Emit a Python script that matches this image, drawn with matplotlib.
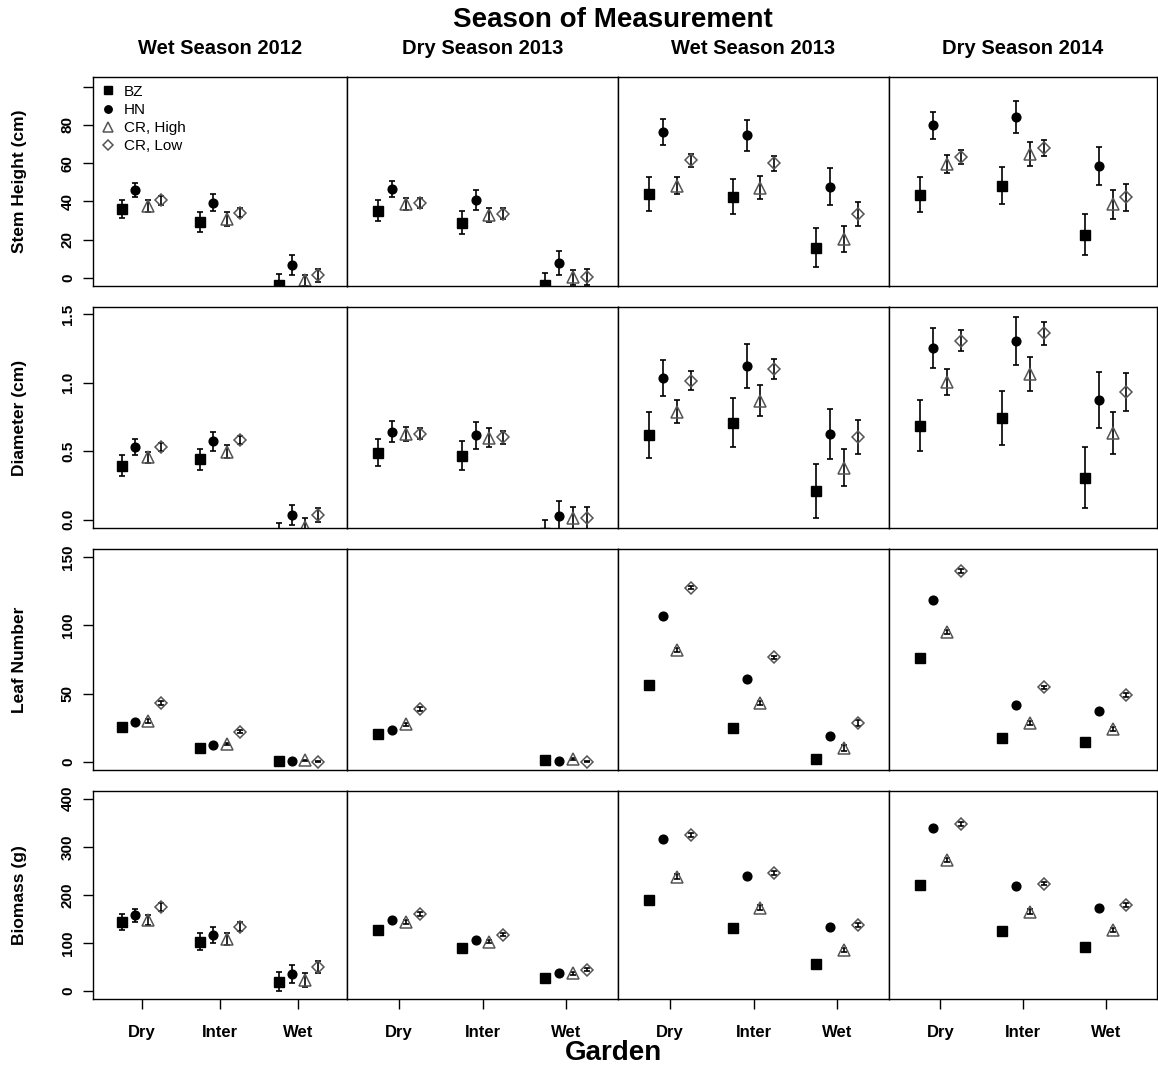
import numpy as np
import matplotlib.pyplot as plt
from matplotlib.lines import Line2D

plt.rcParams['font.family'] = 'Liberation Sans'

seasons = ['Wet Season 2012', 'Dry Season 2013', 'Wet Season 2013', 'Dry Season 2014']
gardens = ['Dry', 'Inter', 'Wet']
sources = ['BZ', 'HN', 'CR, High', 'CR, Low']

# means and standard errors, indexed [season][source][garden]
height_mean = np.array([
    [[36.0, 29.4, -3.5], [46.0, 39.3, 6.6], [37.5, 30.8, -1.2], [40.5, 34.1, 1.4]],
    [[35.2, 28.9, -3.7], [46.5, 40.7, 8.0], [38.6, 32.9, 0.3], [39.3, 33.6, 0.5]],
    [[43.9, 42.5, 15.8], [76.2, 74.5, 47.7], [48.2, 47.2, 20.4], [61.5, 59.9, 33.2]],
    [[43.5, 48.2, 22.6], [79.7, 84.2, 58.5], [59.5, 64.6, 38.6], [63.0, 67.7, 42.1]],
])
height_se = np.array([
    [[4.8, 5.2, 5.4], [3.7, 4.4, 5.3], [3.0, 3.5, 3.0], [2.5, 2.5, 3.4]],
    [[5.5, 5.9, 6.5], [4.3, 5.2, 6.3], [3.0, 3.9, 3.9], [2.5, 2.8, 4.2]],
    [[8.9, 9.1, 10.3], [6.8, 8.1, 9.6], [4.4, 5.9, 7.0], [3.5, 3.8, 6.3]],
    [[9.2, 9.7, 10.8], [7.0, 8.5, 10.0], [4.5, 6.2, 7.6], [3.7, 4.2, 6.9]],
])

diam_mean = np.array([
    [[0.396, 0.440, -0.11], [0.530, 0.573, 0.034], [0.457, 0.498, -0.05], [0.532, 0.581, 0.036]],
    [[0.490, 0.469, -0.10], [0.644, 0.617, 0.027], [0.627, 0.600, 0.012], [0.627, 0.603, 0.012]],
    [[0.620, 0.709, 0.211], [1.035, 1.122, 0.627], [0.790, 0.870, 0.381], [1.015, 1.098, 0.605]],
    [[0.687, 0.746, 0.308], [1.254, 1.307, 0.875], [1.008, 1.064, 0.632], [1.307, 1.361, 0.931]],
])
diam_se = np.array([
    [[0.074, 0.078, 0.090], [0.057, 0.068, 0.075], [0.040, 0.050, 0.060], [0.030, 0.030, 0.053]],
    [[0.100, 0.107, 0.095], [0.079, 0.097, 0.110], [0.050, 0.070, 0.080], [0.040, 0.047, 0.080]],
    [[0.166, 0.177, 0.196], [0.128, 0.158, 0.182], [0.084, 0.115, 0.137], [0.070, 0.074, 0.124]],
    [[0.187, 0.197, 0.220], [0.143, 0.176, 0.205], [0.095, 0.126, 0.155], [0.077, 0.084, 0.138]],
])

leaf_mean = np.array([
    [[25.7, 10.3, 0.5], [29.1, 12.2, 0.2], [29.8, 13.0, 1.0], [43.0, 22.0, 0.0]],
    [[20.3, np.nan, 1.2], [23.2, np.nan, 0.5], [27.4, np.nan, 2.0], [38.6, np.nan, 0.0]],
    [[56.3, 25.0, 2.0], [107.0, 60.9, 19.1], [81.9, 42.8, 10.3], [127.6, 76.5, 28.4]],
    [[76.0, 17.4, 14.4], [118.5, 41.6, 37.0], [95.0, 28.4, 24.0], [140.0, 54.5, 49.0]],
])
leaf_se = np.array([
    [[1.0, 0.8, 0.3], [1.0, 0.8, 0.3], [1.2, 1.0, 0.6], [1.2, 1.0, 0.5]],
    [[1.0, np.nan, 0.4], [1.0, np.nan, 0.3], [1.2, np.nan, 0.6], [1.2, np.nan, 0.4]],
    [[1.5, 1.2, 0.6], [1.6, 1.4, 1.0], [1.4, 1.5, 2.2], [1.2, 1.3, 2.2]],
    [[1.5, 1.0, 0.8], [1.6, 1.2, 1.0], [1.4, 1.3, 1.6], [1.2, 1.2, 1.2]],
])

mass_mean = np.array([
    [[144.4, 102.0, 19.4], [157.6, 117.4, 35.4], [148.0, 107.6, 23.0], [174.3, 134.0, 50.0]],
    [[127.0, 89.0, 27.8], [148.0, 107.0, 37.5], [143.0, 102.8, 36.8], [160.4, 117.4, 44.4]],
    [[189.6, 131.0, 57.0], [316.0, 239.0, 133.3], [238.0, 173.6, 85.4], [324.0, 245.8, 138.0]],
    [[220.8, 125.0, 91.7], [340.0, 218.8, 173.6], [273.0, 165.0, 127.0], [347.0, 223.5, 179.0]],
])
mass_se = np.array([
    [[16.7, 17.7, 20.0], [13.5, 16.7, 18.0], [11.0, 12.0, 14.0], [8.8, 9.7, 13.0]],
    [[3.0, 3.0, 2.5], [3.0, 3.0, 2.5], [4.0, 4.0, 3.5], [3.5, 3.5, 3.0]],
    [[4.0, 4.0, 3.0], [4.0, 4.0, 3.0], [4.5, 4.5, 4.0], [4.0, 4.0, 4.0]],
    [[4.0, 4.0, 3.0], [4.0, 4.0, 3.0], [4.5, 4.5, 4.0], [4.0, 4.0, 4.0]],
])

ylabels = ['Stem Height (cm)', 'Diameter (cm)', 'Leaf Number', 'Biomass (g)']
ylims = [(-4.2, 105.0), (-0.06, 1.553), (-6.1, 156.1), (-16.7, 416.0)]
yticks = [[0, 20, 40, 60, 80, 100], [0.0, 0.5, 1.0, 1.5], [0, 50, 100, 150], [0, 100, 200, 300, 400]]
yticklabels = [['0', '20', '40', '60', '80', ''], ['0.0', '0.5', '1.0', '1.5'],
               ['0', '50', '100', '150'], ['0', '100', '200', '300', '400']]
means = [height_mean, diam_mean, leaf_mean, mass_mean]
ses = [height_se, diam_se, leaf_se, mass_se]

# panel edges in pixels
W, H = 1158, 1070
col_l = [93, 347, 618, 889]
col_r = [347, 618, 889, 1157]
row_t = [77, 307, 549, 791]
row_b = [286, 528, 770, 999]

gray = '#555555'
styles = [
    dict(marker='s', ms=6.7, mfc='black', mec='black'),
    dict(marker='o', ms=6.3, mfc='black', mec='black'),
    dict(marker='^', ms=8.5, mfc='none', mec=gray, mew=1.1),
    dict(marker='D', ms=6.2, mfc='none', mec=gray, mew=1.1),
]
x = np.arange(1, 4)
offsets = [-0.25, -1 / 12, 1 / 12, 0.25]

fig = plt.figure(figsize=(W / 100, H / 100), dpi=100)

for r in range(4):
    for c in range(4):
        ax = fig.add_axes([col_l[c] / W, 1 - row_b[r] / H,
                           (col_r[c] - col_l[c]) / W, (row_b[r] - row_t[r]) / H])
        for k in range(4):
            ax.errorbar(x + offsets[k], means[r][c, k], yerr=ses[r][c, k], fmt='none',
                        ecolor='black', elinewidth=1.2, capsize=2.2, capthick=1.2)
            ax.plot(x + offsets[k], means[r][c, k], ls='none', **styles[k])
        ax.set_xlim(0.38, 3.62)
        ax.set_ylim(*ylims[r])
        for s in ax.spines.values():
            s.set_linewidth(1.0)
        if c == 0:
            ax.set_yticks(yticks[r])
            ax.set_yticklabels(yticklabels[r], rotation=90, va='center',
                               fontsize=11, fontweight='bold')
            ax.tick_params(axis='y', direction='out', length=7, width=1, pad=6)
        else:
            ax.set_yticks([])
        if r == 3:
            ax.set_xticks(x)
            ax.set_xticklabels(gardens, fontsize=12, fontweight='bold')
            ax.tick_params(axis='x', direction='out', length=7, width=1, pad=12)
        else:
            ax.set_xticks([])
        if r == 0 and c == 0:
            handles = [Line2D([], [], ls='none', **dict(st, ms=st['ms'] * 0.85)) for st in styles]
            ax.legend(handles, sources, loc='upper left', frameon=False, fontsize=11,
                      handlelength=1.0, handletextpad=0.5, labelspacing=0.28,
                      borderaxespad=0.2, borderpad=0.3)

for r in range(4):
    fig.text(20 / W, 1 - (row_t[r] + row_b[r]) / 2 / H, ylabels[r], rotation=90,
             ha='center', va='center', fontsize=12.5, fontweight='bold')
for c in range(4):
    fig.text((col_l[c] + col_r[c]) / 2 / W, 1 - 48 / H, seasons[c],
             ha='center', va='center', fontsize=14.5, fontweight='bold')

fig.text(613 / W, 1 - 20 / H, 'Season of Measurement', ha='center', va='center',
         fontsize=20, fontweight='bold')
fig.text(613 / W, 1 - 1053 / H, 'Garden', ha='center', va='center',
         fontsize=20, fontweight='bold')

fig.savefig('out.png', dpi=100)
